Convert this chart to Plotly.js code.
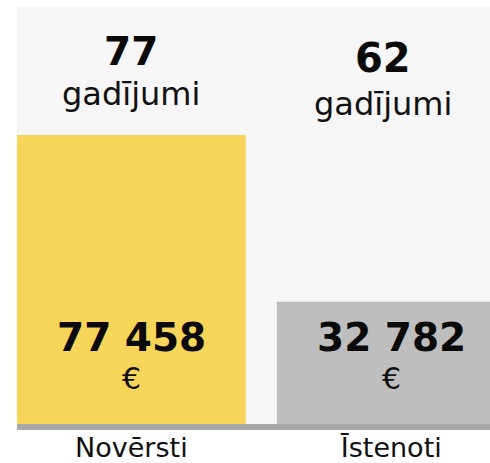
<!DOCTYPE html>
<html>
<head>
<meta charset="utf-8">
<script src="https://cdn.plot.ly/plotly-3.0.1.min.js"></script>
<style>html,body{margin:0;padding:0;background:#fff;}#chart{width:490px;height:463px;}</style>
</head>
<body>
<div id="chart"></div>
<script>
const categories = ['Novērsti', 'Īstenoti'];
const amounts = [77458, 32782];
const amountLabels = ['77 458', '32 782'];
const cases = [77, 62];
const caseWord = 'gadījumi';
const currency = '€';
const barColors = ['#F7D558', '#BEBEBE'];

const FONT = 'DejaVu Sans, sans-serif';

const annotations = [];
const caseX = [0, 0.97];
const caseNumY = [0.893, 0.877];
const caseWordY = [0.792, 0.768];
const caseNumSizes = [39, 40];
cases.forEach((c, i) => {
  annotations.push({
    x: caseX[i], xref: 'x', y: caseNumY[i], yref: 'paper',
    text: String(c), showarrow: false, xanchor: 'center', yanchor: 'middle',
    font: {family: FONT, size: caseNumSizes[i], color: '#0a0a0a', weight: 'bold'}
  });
  annotations.push({
    x: caseX[i], xref: 'x', y: caseWordY[i], yref: 'paper',
    text: caseWord, showarrow: false, xanchor: 'center', yanchor: 'middle',
    font: {family: FONT, size: 32, color: '#111'}
  });
});
amountLabels.forEach((t, i) => {
  annotations.push({
    x: categories[i], xref: 'x', y: 0.208, yref: 'paper',
    text: t, showarrow: false, xanchor: 'center', yanchor: 'middle',
    font: {family: FONT, size: 39, color: '#0a0a0a', weight: 'bold'}
  });
  annotations.push({
    x: categories[i], xref: 'x', y: 0.11, yref: 'paper',
    text: currency, showarrow: false, xanchor: 'center', yanchor: 'middle',
    font: {family: FONT, size: 30, color: '#111'}
  });
});

const trace = {
  type: 'bar',
  x: categories,
  y: amounts,
  marker: {color: barColors},
  hoverinfo: 'none'
};

const layout = {
  width: 490, height: 463,
  margin: {l: 17, r: 0, t: 7, b: 39, pad: 0},
  paper_bgcolor: '#ffffff',
  plot_bgcolor: '#F6F6F6',
  bargap: 0.12,
  showlegend: false,
  xaxis: {
    type: 'category',
    range: [-0.44, 1.38],
    showline: true, linecolor: '#A8A8A8', linewidth: 6,
    showgrid: false, zeroline: false, ticks: '',
    ticklabelstandoff: -5,
    tickfont: {family: FONT, size: 27, color: '#111'},
    fixedrange: true
  },
  yaxis: {
    range: [0, 111760],
    showgrid: false, zeroline: false, showticklabels: false, ticks: '',
    fixedrange: true
  },
  annotations: annotations
};

Plotly.newPlot('chart', [trace], layout, {displayModeBar: false, staticPlot: true});
</script>
</body>
</html>
